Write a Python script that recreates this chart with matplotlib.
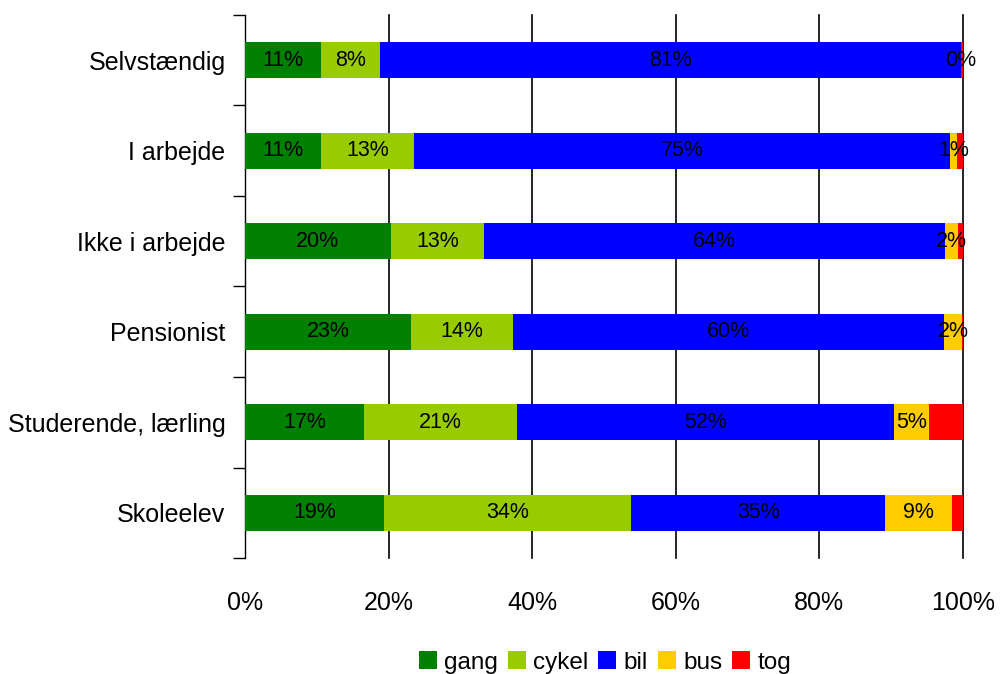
import matplotlib
matplotlib.use("Agg")
import matplotlib.pyplot as plt
import numpy as np

plt.rcParams['font.family'] = ['Liberation Sans', 'DejaVu Sans']

# categories top to bottom
categories = ["Selvstændig", "I arbejde", "Ikke i arbejde", "Pensionist",
              "Studerende, lærling", "Skoleelev"]
gang  = [10.6, 10.6, 20.3, 23.1, 16.6, 19.4]
cykel = [8.2, 12.9, 13.0, 14.2, 21.3, 34.4]
bil   = [80.9, 74.7, 64.2, 60.1, 52.5, 35.4]
bus   = [0.0, 1.0, 1.8, 2.4, 4.9, 9.3]
tog   = [0.3, 0.8, 0.7, 0.2, 4.7, 1.5]

series = [("gang", gang, "#008000"), ("cykel", cykel, "#99cc00"),
          ("bil", bil, "#0000ff"), ("bus", bus, "#ffcc00"),
          ("tog", tog, "#ff0000")]
labelled = ["gang", "cykel", "bil", "bus"]

fig = plt.figure(figsize=(10, 6.74), dpi=100)
ax = fig.add_axes([0.245, 0.172, 0.718, 0.806])

y = np.arange(len(categories))[::-1]
left = np.zeros(len(categories))
for name, vals, col in series:
    vals = np.array(vals)
    ax.barh(y, vals, left=left, height=0.4, color=col, label=name, zorder=3)
    if name in labelled:
        for yi, l, v in zip(y, left, vals):
            ax.text(l + v / 2, yi, f"{round(v):.0f}%", ha="center", va="center",
                    fontsize=15.5, zorder=4)
    left = left + vals

ax.set_xlim(0, 100)
ax.set_ylim(-0.5, len(categories) - 0.5)
ax.set_xticks(np.arange(0, 101, 20))
ax.set_xticklabels([f"{t}%" for t in range(0, 101, 20)], fontsize=18)
ax.tick_params(axis="x", length=0, pad=24)
for t in range(20, 101, 20):
    ax.axvline(t, color="black", lw=1.2, zorder=1, clip_on=False)

ax.set_yticks(y)
ax.set_yticklabels(categories, fontsize=18)
ax.tick_params(axis="y", length=0, pad=14)
ax.set_yticks(np.arange(-0.5, len(categories), 1), minor=True)
ax.tick_params(axis="y", which="minor", length=9, width=1, direction="out")

for s in ["top", "right", "bottom"]:
    ax.spines[s].set_visible(False)
ax.spines["left"].set_linewidth(1)

fig.legend(loc="lower center", bbox_to_anchor=(0.605, -0.032), ncol=5, frameon=False,
           fontsize=17.5, handlelength=0.75, handleheight=0.75, handletextpad=0.3,
           columnspacing=0.4)

fig.savefig("out.png")
